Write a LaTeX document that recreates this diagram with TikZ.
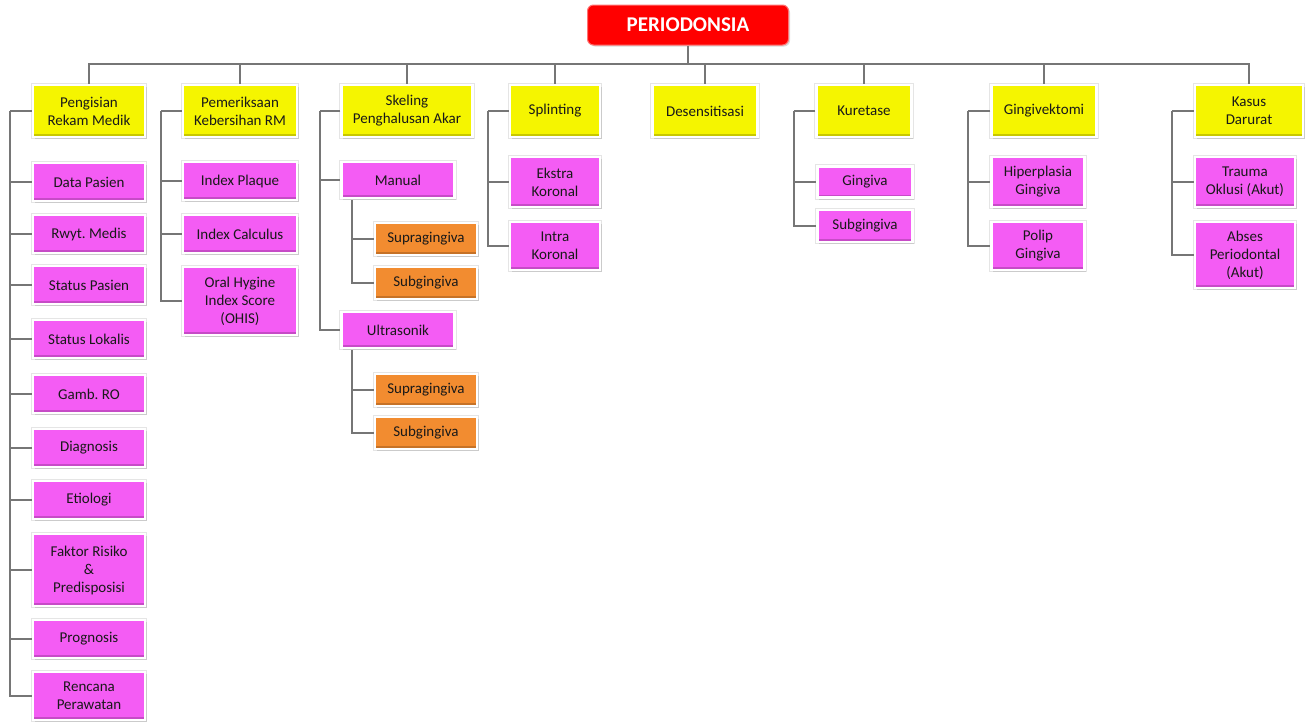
\documentclass[tikz,border=0pt]{standalone}
\usepackage{fontspec}
\setmainfont{Carlito}
\usepackage{xcolor}
\usepackage{tikz}
\usetikzlibrary{shadows,calc}
\definecolor{pdyellow}{RGB}{245,245,0}
\definecolor{pdpink}{RGB}{244,92,244}
\definecolor{pdorange}{RGB}{242,140,48}
\definecolor{pdred}{RGB}{255,0,0}
\definecolor{pdline}{RGB}{118,118,118}

\begin{document}
\begin{tikzpicture}[x=1pt, y=-1pt,
    box/.style={draw=white, line width=2.5pt, align=center, inner sep=2pt, text=black!90,
        font=\fontsize{15}{18}\selectfont,
        preaction={draw=black!10, line width=4.5pt},
        drop shadow={shadow xshift=1.5pt, shadow yshift=-2pt, opacity=0.25},
        path picture={\fill[black, opacity=0.18] (path picture bounding box.south west) rectangle ([yshift=3pt]path picture bounding box.south east);}},
    main/.style={box, fill=pdyellow, minimum height=52},
    sub/.style={box, fill=pdpink},
    leaf/.style={box, fill=pdorange, minimum width=102, minimum height=32},
    titlebox/.style={fill=pdred, draw=pdred!55!white, line width=1pt, rounded corners=6pt,
        minimum width=201, minimum height=40, text=white, font=\fontsize{21}{24}\selectfont\bfseries,
        drop shadow={shadow xshift=1.5pt, shadow yshift=-1.5pt, opacity=0.3}},
    conn/.style={draw=pdline, line width=1.1pt}]
    \useasboundingbox (0,0) rectangle (1310,723);

    % Title
    \node[titlebox] (title) at (688,25) {PERIODONSIA};

    % Main topics
    \node[main, minimum width=112] (rekam) at (89,111) {Pengisian\\Rekam Medik};
    \node[main, minimum width=114] (periksa) at (240,111) {Pemeriksaan\\Kebersihan RM};
    \node[main, minimum width=131] (skeling) at (407,111) {Skeling\\Penghalusan Akar};
    \node[main, minimum width=90] (splint) at (555,111) {Splinting};
    \node[main, minimum width=105] (desens) at (705,111) {Desensitisasi};
    \node[main, minimum width=95] (kuret) at (864,111) {Kuretase};
    \node[main, minimum width=105] (gingivek) at (1044,111) {Gingivektomi};
    \node[main, minimum width=108] (darurat) at (1249,111) {Kasus\\Darurat};

    % Rekam medik
    \node[sub, minimum width=112, minimum height=38] (data) at (89,182) {Data Pasien};
    \node[sub, minimum width=112, minimum height=38] (rwyt) at (89,234) {Rwyt.\ Medis};
    \node[sub, minimum width=112, minimum height=38] (spasien) at (89,285) {Status Pasien};
    \node[sub, minimum width=112, minimum height=38] (slokal) at (89,339) {Status Lokalis};
    \node[sub, minimum width=112, minimum height=38] (gamb) at (89,394) {Gamb.\ RO};
    \node[sub, minimum width=112, minimum height=38] (diag) at (89,448) {Diagnosis};
    \node[sub, minimum width=112, minimum height=38] (etio) at (89,500) {Etiologi};
    \node[sub, minimum width=112, minimum height=72] (faktor) at (89,570) {Faktor Risiko\\\&\\Predisposisi};
    \node[sub, minimum width=112, minimum height=38] (progn) at (89,639) {Prognosis};
    \node[sub, minimum width=112, minimum height=48] (rencana) at (89,696) {Rencana\\Perawatan};

    % Kebersihan
    \node[sub, minimum width=114, minimum height=38] (plaque) at (240,181) {Index Plaque};
    \node[sub, minimum width=114, minimum height=38] (calc) at (240,234) {Index Calculus};
    \node[sub, minimum width=114, minimum height=68] (ohis) at (240,301) {Oral Hygine\\Index Score\\(OHIS)};

    % Skeling
    \node[sub, minimum width=113, minimum height=36] (manual) at (398,180) {Manual};
    \node[leaf] (supraA) at (426,239) {Supragingiva};
    \node[leaf] (subA) at (426,283) {Subgingiva};
    \node[sub, minimum width=113, minimum height=36] (ultra) at (398,330) {Ultrasonik};
    \node[leaf] (supraB) at (426,390) {Supragingiva};
    \node[leaf] (subB) at (426,433) {Subgingiva};

    % Splinting
    \node[sub, minimum width=90, minimum height=50] (ekstra) at (555,182) {Ekstra\\Koronal};
    \node[sub, minimum width=90, minimum height=48] (intra) at (555,246) {Intra\\Koronal};

    % Kuretase
    \node[sub, minimum width=95, minimum height=31] (ging) at (865,182) {Gingiva};
    \node[sub, minimum width=95, minimum height=32] (subging) at (865,226) {Subgingiva};

    % Gingivektomi
    \node[sub, minimum width=93, minimum height=50] (hiper) at (1038,182) {Hiperplasia\\Gingiva};
    \node[sub, minimum width=93, minimum height=48] (polip) at (1038,246) {Polip\\Gingiva};

    % Kasus darurat
    \node[sub, minimum width=100, minimum height=50] (trauma) at (1245,182) {Trauma\\Oklusi (Akut)};
    \node[sub, minimum width=100, minimum height=66] (abses) at (1245,255) {Abses\\Periodontal\\(Akut)};

    % Connectors
    \coordinate (bus) at (688,64);
    \draw[conn] (title) -- (bus);
    \foreach \n in {rekam,periksa,skeling,splint,desens,kuret,gingivek,darurat}
        \draw[conn] (bus) -| (\n);

    \coordinate (s1) at (10,111);
    \draw[conn] (rekam) -- (s1);
    \foreach \n in {data,rwyt,spasien,slokal,gamb,diag,etio,faktor,progn,rencana}
        \draw[conn] (s1) |- (\n);

    \coordinate (s2) at (161,111);
    \draw[conn] (periksa) -- (s2);
    \foreach \n in {plaque,calc,ohis}
        \draw[conn] (s2) |- (\n);

    \coordinate (s3) at (320,111);
    \draw[conn] (skeling) -- (s3);
    \foreach \n in {manual,ultra}
        \draw[conn] (s3) |- (\n);
    \coordinate (s3a) at (352,200);
    \foreach \n in {supraA,subA}
        \draw[conn] (s3a) |- (\n);
    \coordinate (s3b) at (352,350);
    \foreach \n in {supraB,subB}
        \draw[conn] (s3b) |- (\n);

    \coordinate (s4) at (488,111);
    \draw[conn] (splint) -- (s4);
    \foreach \n in {ekstra,intra}
        \draw[conn] (s4) |- (\n);

    \coordinate (s6) at (794,111);
    \draw[conn] (kuret) -- (s6);
    \foreach \n in {ging,subging}
        \draw[conn] (s6) |- (\n);

    \coordinate (s7) at (968,111);
    \draw[conn] (gingivek) -- (s7);
    \foreach \n in {hiper,polip}
        \draw[conn] (s7) |- (\n);

    \coordinate (s8) at (1172,111);
    \draw[conn] (darurat) -- (s8);
    \foreach \n in {trauma,abses}
        \draw[conn] (s8) |- (\n);
\end{tikzpicture}
\end{document}
